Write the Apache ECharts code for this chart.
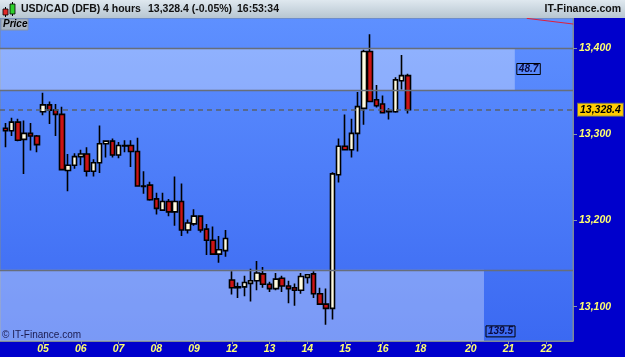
<!DOCTYPE html>
<html><head><meta charset="utf-8">
<script src="https://cdn.jsdelivr.net/npm/echarts@6/dist/echarts.min.js"></script>
<style>html,body{margin:0;padding:0;background:#0000cc;}#c{width:625px;height:357px;}</style>
</head><body><div id="c"></div>
<script>
// 4-hour candles, index 0..64
const opens  = [13307,13304,13314,13294,13301,13298,13326,13334,13328,13323,13258,13264,13274,13277,13257,13267,13289,13292,13276,13287,13287,13280,13240,13241,13225,13212,13222,13210,13222,13189,13196,13205,13190,13177,13161,13165,13131,13123,13123,13127,13130,13138,13126,13121,13133,13124,13122,13119,13134,13138,13115,13103,13098,13253,13286,13282,13301,13330,13396,13340,13335,13326,13326,13362,13368];
const closes = [13304,13314,13293,13301,13298,13288,13334,13328,13323,13259,13264,13274,13277,13257,13267,13289,13292,13276,13287,13286.5,13280,13240,13239.5,13224,13214,13222,13210,13222,13189,13197,13205,13189,13177,13161,13166,13179,13122,13122,13128,13130,13139,13126,13121,13132,13124,13121,13119,13135,13137,13115,13103,13098,13254,13286,13282,13301,13332,13396,13338,13333,13325,13327,13363,13368,13328.4];
const lows   = [13285,13298,13292,13254,13281,13279,13322,13312,13298,13258,13234,13260,13264,13251,13251,13255,13273,13273,13272,13279,13262,13239,13231,13223,13207,13212,13205,13194,13182,13185,13194,13186,13160,13160,13151,13158,13114,13110,13112,13106,13119,13122,13117,13119,13117,13104,13101,13115,13127,13110,13102,13079,13085,13244,13281,13273,13280,13311,13337,13331,13325,13317,13325,13352,13324];
const highs  = [13313,13319,13318,13316,13313,13299,13348,13338,13335,13332,13277,13278,13282,13285,13271,13310,13293,13295,13291,13293,13293,13296,13257,13245,13232,13232,13225,13251,13243,13201,13213,13206,13196,13193,13182,13189,13141,13128,13136,13144,13153,13146,13129,13139,13136,13130,13127,13139,13138,13141,13122,13121,13256,13295,13323,13318,13349,13398,13416,13357,13345,13330,13366,13392,13370];

// x-axis day labels and the candle index where each day starts
const dayLabels     = ['05','06','07','08','09','12','13','14','15','16','18','20','21','22'];
const dayStartIndex = [6,12,18,24,30,36,42,48,54,60,66,74,80,86];

// y-axis tick labels
const priceTicks = [13100, 13200, 13300, 13400];

// zone levels and widths
const levelLines   = [13400, 13351.3, 13142.8];
const upperZone    = [13351.3, 13400];
const upperZoneEnd = 81.0;
const upperZoneLabel = '48.7';
const lowerZone    = [13060.2, 13142.8];
const lowerZoneEnd = 76.1;
const lowerZoneLabel = '139.5';

// red trend line (two points)
const trendX = [82.9, 90.3];
const trendY = [13434.4, 13427.8];

const lastPrice = 13328.4;

const xMin = -0.85, xMax = 90.25, yMin = 13060.2, yMax = 13434.8;

const candleData = opens.map((o, i) => [i, o, closes[i], lows[i], highs[i]]);
const fmt = v => Number(v).toLocaleString('en-US');
const FONT = 'Liberation Sans, Arial, sans-serif';

const chart = echarts.init(document.getElementById('c'));
chart.setOption({
  animation: false,
  backgroundColor: '#0000cc',
  grid: {
    left: 0, right: 52, top: 18, bottom: 16,
    show: true, borderColor: '#7d8898', borderWidth: 1,
    backgroundColor: {type: 'linear', x: 0, y: 0, x2: 0, y2: 1,
      colorStops: [{offset: 0, color: '#5e90ff'}, {offset: 1, color: '#3b69f2'}]}
  },
  xAxis: {
    type: 'value', min: xMin, max: xMax,
    splitLine: {show: false},
    axisLine: {show: true, onZero: false, lineStyle: {color: '#7d8898', width: 1}},
    axisTick: {show: true, customValues: dayStartIndex, length: 3, lineStyle: {color: '#8a96a8'}},
    axisLabel: {
      customValues: dayStartIndex, margin: 3,
      formatter: v => dayLabels[dayStartIndex.indexOf(Math.round(v))] || '',
      color: '#ffff70', fontStyle: 'italic', fontWeight: 'bold', fontSize: 10.5, fontFamily: FONT
    }
  },
  yAxis: {
    type: 'value', position: 'right', min: yMin, max: yMax, scale: true,
    splitLine: {show: false},
    axisLine: {show: true, onZero: false, lineStyle: {color: '#7d8898', width: 1}},
    axisTick: {show: true, customValues: priceTicks, length: 4, lineStyle: {color: '#8a96a8'}},
    axisLabel: {
      customValues: priceTicks, margin: 6, formatter: v => fmt(v),
      color: '#ffff70', fontStyle: 'italic', fontWeight: 'bold', fontSize: 10.5, fontFamily: FONT
    }
  },
  graphic: [
    {type: 'rect', z: 100, shape: {x: 0, y: 0, width: 625, height: 18},
     style: {fill: {type: 'linear', x: 0, y: 0, x2: 0, y2: 1,
       colorStops: [{offset: 0, color: '#dfe8ef'}, {offset: 1, color: '#b7c6d1'}]}}},
    {type: 'line', z: 101, shape: {x1: 5.5, y1: 7, x2: 5.5, y2: 17}, style: {stroke: '#000', lineWidth: 1}},
    {type: 'rect', z: 102, shape: {x: 3, y: 9, width: 5, height: 6}, style: {fill: '#e02a2a', stroke: '#000', lineWidth: 0.8}},
    {type: 'line', z: 101, shape: {x1: 12.5, y1: 2, x2: 12.5, y2: 16}, style: {stroke: '#000', lineWidth: 1}},
    {type: 'rect', z: 102, shape: {x: 10, y: 4, width: 5, height: 10}, style: {fill: '#2ed02e', stroke: '#000', lineWidth: 0.8}},
    {type: 'text', z: 102, x: 21, y: 9.5, style: {text: 'USD/CAD (DFB)', fill: '#111', font: 'bold 10.5px ' + FONT, verticalAlign: 'middle'}},
    {type: 'text', z: 102, x: 103, y: 9.5, style: {text: '4 hours', fill: '#111', font: 'bold 10.5px ' + FONT, verticalAlign: 'middle'}},
    {type: 'text', z: 102, x: 148, y: 9.5, style: {text: '13,328.4 (-0.05%)', fill: '#111', font: 'bold 10.5px ' + FONT, verticalAlign: 'middle'}},
    {type: 'text', z: 102, x: 237, y: 9.5, style: {text: '16:53:34', fill: '#111', font: 'bold 10.5px ' + FONT, verticalAlign: 'middle'}},
    {type: 'text', z: 102, x: 621, y: 9.5, style: {text: 'IT-Finance.com', fill: '#111', font: 'bold 10.5px ' + FONT, verticalAlign: 'middle', align: 'right'}},
    {type: 'rect', z: 102, shape: {x: 1, y: 19, width: 27, height: 11}, style: {fill: '#a9b5c4', stroke: '#8894a4', lineWidth: 1}},
    {type: 'text', z: 103, x: 3, y: 24.5, style: {text: 'Price', fill: '#000', font: 'italic bold 10px ' + FONT, verticalAlign: 'middle'}},
    {type: 'text', z: 102, x: 2, y: 335.5, style: {text: '\u00a9 IT-Finance.com', fill: '#1c1c50', font: '10px ' + FONT, verticalAlign: 'middle'}}
  ],
  series: [
    {
      type: 'line', data: [], z: 1, silent: true,
      markArea: {
        silent: true,
        itemStyle: {color: 'rgba(255,255,255,0.32)'},
        label: {position: 'right', distance: 2, color: '#0a0a40', fontStyle: 'italic', fontWeight: 'bold',
                fontSize: 10, fontFamily: FONT, borderColor: '#000', borderWidth: 1, padding: [1, 2, 0, 2]},
        data: [
          [{name: upperZoneLabel, xAxis: xMin, yAxis: upperZone[0]}, {xAxis: upperZoneEnd, yAxis: upperZone[1]}],
          [{name: lowerZoneLabel, xAxis: xMin, yAxis: lowerZone[0], label: {offset: [0, 26]}}, {xAxis: lowerZoneEnd, yAxis: lowerZone[1]}]
        ]
      },
      markLine: {
        silent: true, symbol: 'none', label: {show: false},
        lineStyle: {color: '#676e7a', type: 'solid', width: 1.3},
        data: levelLines.map(v => ({yAxis: v}))
      }
    },
    {
      type: 'line', z: 2, silent: true, symbol: 'none', clip: true,
      data: trendX.map((x, i) => [x, trendY[i]]),
      lineStyle: {color: '#e0203a', width: 1}
    },
    {
      type: 'candlestick', z: 3,
      data: candleData,
      encode: {x: 0, y: [1, 2, 3, 4]},
      barWidth: 5,
      itemStyle: {color: '#fffbe0', color0: '#cc1414', borderColor: '#000', borderColor0: '#000', borderColorDoji: '#000', borderWidth: 1.6},
      markLine: {
        silent: true, symbol: 'none', z: 4,
        lineStyle: {color: '#5a616c', type: [5, 4], width: 1.5},
        label: {position: 'end', distance: 5, formatter: () => fmt(lastPrice), color: '#000',
                backgroundColor: '#ffcc00', borderColor: '#6a6a6a', borderWidth: 1, padding: [1, 2, 0, 2],
                fontStyle: 'italic', fontWeight: 'bold', fontSize: 10.5, fontFamily: FONT},
        data: [{yAxis: lastPrice}]
      }
    }
  ]
});
</script></body></html>
